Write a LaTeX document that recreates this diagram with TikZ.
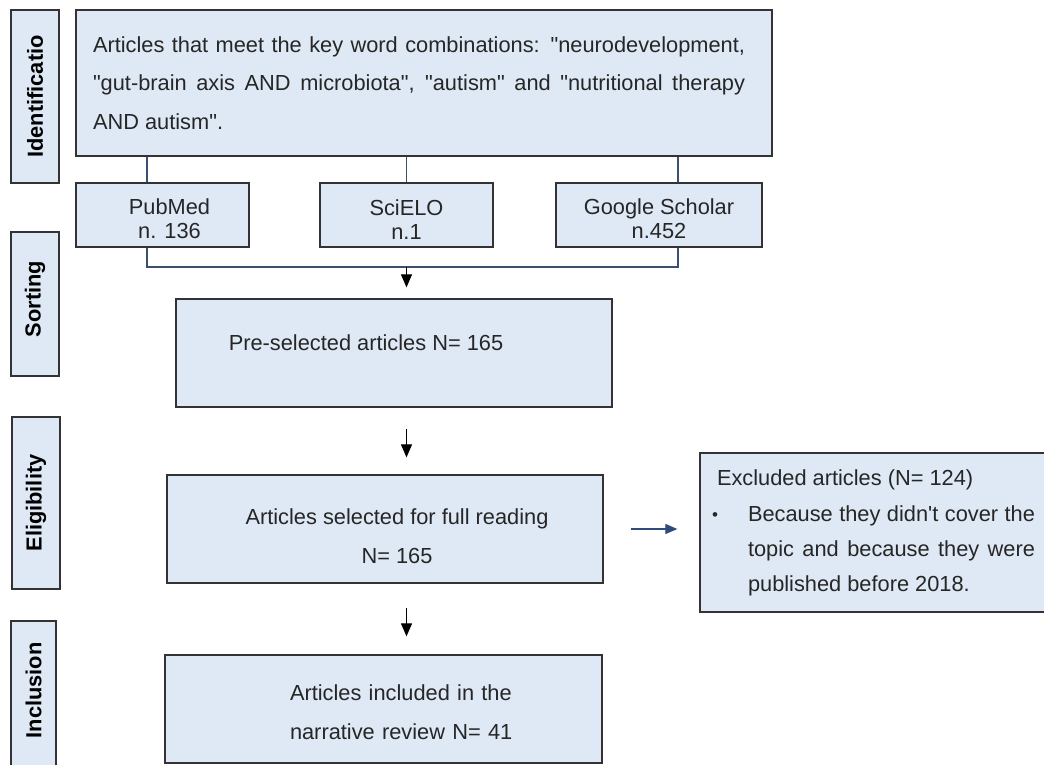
\documentclass[tikz,border=0pt]{standalone}
\usepackage{fontspec}
\usepackage{graphicx}
\usetikzlibrary{arrows.meta,calc}
\newfontfamily\arial{Liberation Sans}
\definecolor{boxfill}{RGB}{222,233,245}
\definecolor{boxline}{RGB}{51,51,51}
\definecolor{linkcol}{RGB}{61,79,110}
\definecolor{arrblue}{RGB}{47,75,124}
\begin{document}
\begin{tikzpicture}[x=1pt,y=-1pt,
  flowbox/.style={draw=boxline, line width=1.3pt, fill=boxfill, inner sep=0pt,
    font=\arial\fontsize{21.8}{24}\selectfont, text=black!85},
  sidebox/.style={draw=boxline, line width=1.3pt, fill=boxfill, inner sep=0pt,
    minimum width=48pt, font=\arial\bfseries\fontsize{21.8}{24}\selectfont},
  link/.style={draw=linkcol, line width=1.1pt},
  arr/.style={draw=black, line width=1.1pt, -{Triangle[length=13pt,width=11pt]}},
  arrb/.style={draw=arrblue, line width=1.1pt, -{Triangle[length=12pt,width=10pt]}}
]
\useasboundingbox (0,0) rectangle (1044,765);
\begin{scope}
\clip (0,0) rectangle (1044,765);

% side labels
\node[sidebox, minimum height=173pt] (idl) at (35,96.5) {\rotatebox{90}{Identificatio}};
\node[sidebox, minimum height=144pt] (sol) at (35,304) {\rotatebox{90}{\hspace*{10pt}Sorting}};
\node[sidebox, minimum height=172pt] (ell) at (36,503) {\rotatebox{90}{Eligibility}};
\node[sidebox, minimum width=45pt, minimum height=179pt] (inl) at (33.5,710.5) {\rotatebox{90}{\hspace*{40pt}Inclusion}};

% main boxes
\node[flowbox, minimum width=696pt, minimum height=146pt, text width=662pt, inner xsep=17pt, align=justify,
  font=\arial\fontsize{21.8}{38.5}\selectfont] (main) at (424,83)
  {\rightskip=10pt\noindent Articles that meet the key word combinations: "neurodevelopment,\linebreak
   "gut-brain axis AND microbiota", "autism" and "nutritional therapy\linebreak
   AND autism".\par};

\node[flowbox, minimum width=173pt, minimum height=64pt, align=center] (s1) at (162.5,215)
  {\rule{0pt}{24pt}\hspace*{14pt}PubMed\\\hspace*{14pt}n. 136};
\node[flowbox, minimum width=173pt, minimum height=64pt, align=center] (s2) at (406.5,215)
  {\rule{0pt}{24pt}SciELO\\n.1};
\node[flowbox, minimum width=206pt, minimum height=64pt, align=center] (s3) at (659,215)
  {\rule{0pt}{24pt}Google Scholar\\n.452};

\node[flowbox, minimum width=436pt, minimum height=108pt] (pre) at (394,353)
  {\hspace*{-56pt}Pre-selected articles N= 165\rule[-20pt]{0pt}{20pt}};

\node[flowbox, minimum width=436pt, minimum height=108pt, align=center,
  font=\arial\fontsize{21.8}{38.5}\selectfont] (sel) at (385,529)
  {\rule{0pt}{30pt}\hspace*{24pt}Articles selected for full reading\\\hspace*{24pt}N= 165};

\node[flowbox, minimum width=437pt, minimum height=108pt, align=left, text width=280pt,
  font=\arial\fontsize{21.8}{38.5}\selectfont] (inc) at (383.5,709)
  {\rule{0pt}{22pt}\hspace*{46.5pt}Articles included in the\\\hspace*{46.5pt}narrative review N= 41};

\node[flowbox, minimum height=159pt, text width=336pt, inner xsep=12pt, align=justify,
  font=\arial\fontsize{21.8}{35}\selectfont] (exc) at (880,532.5)
  {\rightskip=13pt\noindent\hspace*{5pt}Excluded articles (N= 124)\par\vspace{1pt}%
   \hangindent=36pt\hangafter=1\noindent\makebox[36pt][l]{\raisebox{1pt}{\fontsize{17}{17}\selectfont\textbullet}}%
   Because they didn't cover the\linebreak topic and because they were\linebreak published before 2018.\par};

% reference coordinates for connector columns
\coordinate (c1) at (147,267);
\coordinate (c2) at (406.5,267);
\coordinate (c3) at (678,267);

% connectors
\draw[link] (main.south -| c1) -- (s1.north -| c1);
\draw[link] (main.south -| c2) -- (s2.north -| c2);
\draw[link] (main.south -| c3) -- (s3.north -| c3);
\draw[link] (s1.south -| c1) -- (c1) -- (c3) -- (s3.south -| c3);
\draw[arr, shorten >=11pt] (c2) -- (pre.north -| c2);
\draw[arr, shorten <=21pt, shorten >=17pt] (pre.south -| c2) -- (sel.north -| c2);
\draw[arr, shorten <=24pt, shorten >=18pt] (sel.south -| c2) -- (inc.north -| c2);
\draw[arrb, shorten <=27pt, shorten >=22pt] (sel.east) -- (sel.east -| exc.west);
\end{scope}
\end{tikzpicture}
\end{document}
